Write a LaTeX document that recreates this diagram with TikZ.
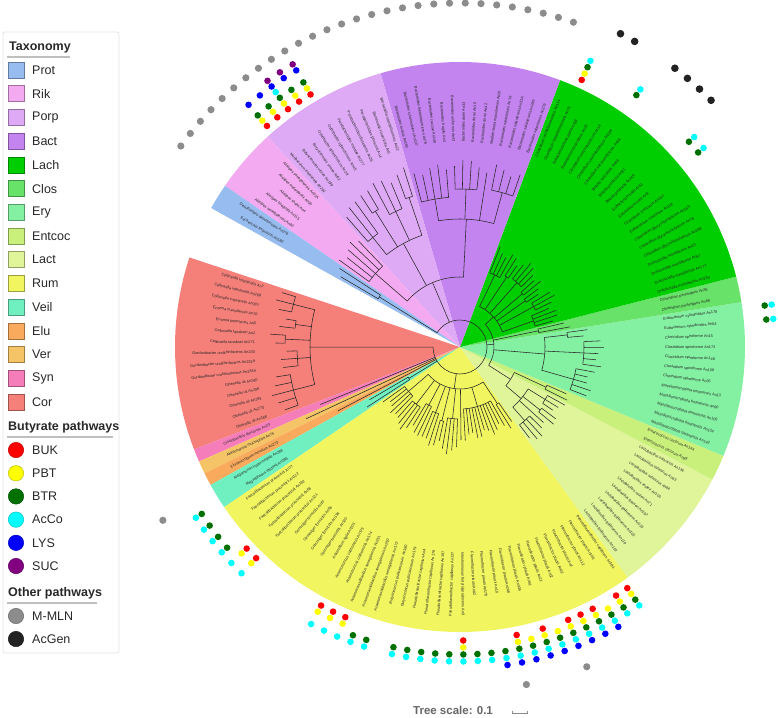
\documentclass[tikz,border=0pt]{standalone}
\usepackage{fontspec}
\setmainfont{Liberation Sans}
\usetikzlibrary{positioning}
\definecolor{prot}{RGB}{151,189,240}
\definecolor{rik}{RGB}{244,170,240}
\definecolor{porp}{RGB}{222,170,245}
\definecolor{bact}{RGB}{196,132,240}
\definecolor{lach}{RGB}{0,206,0}
\definecolor{clos}{RGB}{104,226,104}
\definecolor{ery}{RGB}{132,240,162}
\definecolor{entcoc}{RGB}{200,240,122}
\definecolor{lact}{RGB}{224,245,154}
\definecolor{rum}{RGB}{240,245,96}
\definecolor{veil}{RGB}{112,240,192}
\definecolor{elu}{RGB}{250,170,92}
\definecolor{ver}{RGB}{245,196,102}
\definecolor{syn}{RGB}{245,126,186}
\definecolor{cor}{RGB}{245,128,122}
\definecolor{buk}{RGB}{255,0,0}
\definecolor{pbt}{RGB}{255,255,0}
\definecolor{btr}{RGB}{0,112,0}
\definecolor{acco}{RGB}{0,255,255}
\definecolor{lys}{RGB}{0,0,255}
\definecolor{suc}{RGB}{128,0,128}
\definecolor{mmln}{RGB}{140,140,140}
\definecolor{acgen}{RGB}{34,34,34}
\definecolor{ink}{RGB}{40,40,40}
% angle of leaf number k
\newcommand{\kang}[1]{163+2.625*(#1)}
\newcommand{\sector}[3]{\fill[#3] (0,0) -- ({\kang{#1-0.5}}:285)
  arc[start angle={\kang{#1-0.5}}, end angle={\kang{#2+0.5}}, radius=285] -- cycle;}
% leaves #1..#2, node radius #3, tip radius #4, parent radius #5
\newcommand{\clade}[5]{%
  \draw[branch] ({\kang{(#1+#2)/2}}:#5) -- ({\kang{(#1+#2)/2}}:#3);
  \draw[branch] ({\kang{#1}}:#3) arc[start angle={\kang{#1}}, end angle={\kang{#2}}, radius=#3];
  \foreach \k in {#1,...,#2}
    \draw[branch] ({\kang{\k}}:#3) -- ({\kang{\k}}:{#4+4*sin(97*\k)});}
% inner node: arc between #1 and #2 at radius #3, stem from #4
\newcommand{\joint}[4]{%
  \draw[branch] ({\kang{(#1+#2)/2}}:#4) -- ({\kang{(#1+#2)/2}}:#3);
  \draw[branch] ({\kang{#1}}:#3) arc[start angle={\kang{#1}}, end angle={\kang{#2}}, radius=#3];}
\newcommand{\ring}[4]{\foreach \k in {#4} \fill[#1] ({\kang{\k}}:#2) circle[radius=#3];}
\tikzset{
  branch/.style={line width=0.55pt, draw=black!85},
  lbl/.style={font=\fontsize{3.8}{4}\selectfont, inner sep=0pt, text=black!85},
  leg/.style={font=\fontsize{12.5}{14}\selectfont, text=ink, anchor=west, inner sep=0pt},
  legtitle/.style={font=\fontsize{12.5}{14}\selectfont\bfseries, text=ink, anchor=west, inner sep=0pt},
  swatch/.style={draw=#1!65!black, fill=#1, line width=0.5pt},
  legdot/.style={draw=#1!75!black, fill=#1, line width=0.5pt},
  rule/.style={draw=black!25, line width=1.4pt},
}
\begin{document}
\begin{tikzpicture}[x=1pt,y=1pt]
\useasboundingbox (0,0) rectangle (778,-717);
\fill[white] (0,0) rectangle (778,-717);

% legend
\draw[black!10, line width=0.8pt, rounded corners=2pt] (3,-32) rectangle (119,-653);
\node[legtitle] (taxa) at (9,-47) {Taxonomy};
\draw[rule] (7,-57) -- (70,-57);
\foreach \nm/\col [count=\i] in {Prot/prot,Rik/rik,Porp/porp,Bact/bact,Lach/lach,Clos/clos,Ery/ery,Entcoc/entcoc,Lact/lact,Rum/rum,Veil/veil,Elu/elu,Ver/ver,Syn/syn,Cor/cor}{
  \pgfmathsetmacro\yy{-70-23.71*(\i-1)}
  \filldraw[swatch=\col] (8,\yy-8) rectangle (24,\yy+8);
  \node[leg] (tx\i) at (32,\yy) {\nm};
}
\node[legtitle] (buty) at (8,-427) {Butyrate pathways};
\draw[rule] (7,-437) -- (113,-437);
\foreach \nm/\col [count=\i] in {BUK/buk,PBT/pbt,BTR/btr,AcCo/acco,LYS/lys,SUC/suc}{
  \pgfmathsetmacro\yy{-450-23.2*(\i-1)}
  \filldraw[legdot=\col] (16,\yy) circle[radius=7.7];
  \node[leg] (bp\i) at (32,\yy) {\nm};
}
\node[legtitle] (other) at (8,-593) {Other pathways};
\draw[rule] (7,-603) -- (97,-603);
\foreach \nm/\col [count=\i] in {M-MLN/mmln,AcGen/acgen}{
  \pgfmathsetmacro\yy{-616-23*(\i-1)}
  \filldraw[legdot=\col] (16,\yy) circle[radius=7.7];
  \node[leg] (op\i) at (32,\yy) {\nm};
}

\begin{scope}[shift={(460,-347)}]
% clade sectors
\sector{0}{14}{cor}
\sector{15}{15}{syn}
\sector{16}{16}{ver}
\sector{17}{17}{elu}
\sector{18}{19}{veil}
\sector{20}{54}{rum}
\sector{55}{64}{lact}
\sector{65}{66}{entcoc}
\sector{67}{78}{ery}
\sector{79}{80}{clos}
\sector{81}{101}{lach}
\sector{102}{115}{bact}
\sector{116}{125}{porp}
\sector{126}{130}{rik}
\sector{131}{132}{prot}

% tree
\draw[branch] ({\kang{6.5}}:27) arc[start angle={\kang{6.5}}, end angle={\kang{131.5}}, radius=27];
% Cor
\joint{1}{12}{150}{27}
\clade{0}{2}{172}{186}{150}
\clade{3}{4}{166}{180}{150}
\clade{5}{6}{175}{187}{150}
\clade{7}{9}{163}{176}{150}
\clade{10}{14}{172}{190}{150}
% Syn, Ver, Elu, Veil
\clade{15}{15}{27}{150}{27}
\clade{16}{16}{27}{166}{27}
\clade{17}{17}{27}{140}{27}
\clade{18}{19}{60}{108}{27}
% Rum
\joint{22}{53.5}{42}{27}
\clade{20}{24}{68}{92}{42}
\clade{25}{28}{72}{98}{42}
\clade{29}{31}{66}{95}{42}
\clade{32}{34}{70}{100}{42}
\clade{35}{36}{76}{100}{42}
\clade{37}{40}{72}{104}{42}
\clade{41}{41}{42}{92}{42}
\clade{42}{52}{62}{90}{42}
\clade{53}{54}{68}{92}{42}
% Lact, Entcoc, Ery, Clos, Lach
\joint{62.625}{91}{34}{27}
\joint{59.75}{65.5}{60}{34}
\joint{56.5}{63}{80}{60}
\clade{55}{58}{98}{118}{80}
\clade{59}{59}{80}{115}{80}
\clade{60}{61}{102}{118}{80}
\clade{62}{64}{100}{116}{80}
\clade{65}{66}{95}{120}{60}
\joint{69}{77.5}{85}{34}
\clade{67}{71}{118}{134}{85}
\clade{72}{76}{124}{140}{85}
\clade{77}{78}{108}{128}{85}
\clade{79}{80}{80}{108}{34}
\joint{82.5}{99.5}{45}{34}
\clade{81}{84}{78}{100}{45}
\clade{85}{87}{84}{104}{45}
\clade{88}{89}{80}{98}{45}
\clade{90}{91}{82}{100}{45}
\clade{92}{95}{86}{106}{45}
\clade{96}{97}{84}{102}{45}
\clade{98}{101}{80}{104}{45}
% Bact, Porp, Rik
\joint{108.25}{128}{70}{27}
\joint{103.5}{113}{128}{70}
\clade{102}{105}{160}{182}{128}
\clade{106}{106}{128}{178}{128}
\clade{107}{110}{158}{184}{128}
\clade{111}{115}{150}{180}{128}
\joint{116.5}{124}{118}{70}
\clade{116}{117}{158}{184}{118}
\clade{118}{120}{150}{182}{118}
\clade{121}{122}{160}{184}{118}
\clade{123}{125}{140}{176}{118}
\clade{126}{130}{112}{148}{70}
% Prot
\clade{131}{132}{95}{140}{27}

% leaf labels, right half
\foreach \k/\txt in {
41/Intestinimonas butyriciproducens An9, 42/Flavonifractor plautii An82,
43/Flavonifractor plautii An178, 44/Flavonifractor plautii An10,
45/Flavonifractor plautii An248, 46/Flavonifractor plautii An306,
47/Flavonifractor plautii An91, 48/Flavonifractor plautii An21,
49/Flavonifractor plautii An52, 50/Flavonifractor plautii An62,
51/Flavonifractor plautii An4, 52/Flavonifractor plautii An112,
53/Flavonifractor plautii An100, 54/Pseudoflavonifractor capillosus An184,
55/Lactobacillus gallinarum An103, 56/Lactobacillus gallinarum An119,
57/Lactobacillus gallinarum An102, 58/Lactobacillus gallinarum An115,
59/Lactobacillus gasseri An197, 60/Lactobacillus reuteri An71,
61/Lactobacillus reuteri An100, 62/Lactobacillus salivarius An84,
63/Lactobacillus salivarius An63, 64/Lactobacillus salivarius An136,
65/Enterococcus cecorum An69, 66/Enterococcus cecorum An144,
67/Massiliomicrobiota timonensis An142, 68/Massiliomicrobiota timonensis An134,
69/Massiliomicrobiota timonensis An105, 70/Massiliomicrobiota timonensis An80,
71/Massiliomicrobiota timonensis An13, 72/Clostridium spiroforme An35,
73/Clostridium spiroforme An158, 74/Clostridium spiroforme An148,
75/Clostridium spiroforme An173, 76/Clostridium spiroforme An15,
77/Eubacterium cylindroides An64, 78/Eubacterium cylindroides An178,
79/Clostridium perfringens An68, 80/Clostridium perfringens An85,
81/Dracourtella massiliensis An230, 82/Dracourtella massiliensis An177,
83/Dracourtella massiliensis An67, 84/Dracourtella massiliensis An22,
85/Clostridium glycyrrhizinilyticum An298, 86/Clostridium glycyrrhizinilyticum An76,
87/Clostridium glycyrrhizinilyticum An169, 88/Eubacterium contortum An118,
89/Clostridium innocuum An181, 90/Eubacterium hallii An3,
91/Eubacterium hallii An11, 92/Blautia producta An249,
93/Blautia producta An81, 94/Blautia coccoides An66,
95/Clostridium saccharolyticum An58, 96/Clostridium saccharolyticum An168,
97/Clostridium saccharolyticum An14, 98/Eubacterium fissicatena An35,
99/Eubacterium fissicatena An38, 100/Clostridium lactatifermentans An75,
101/Clostridium lactatifermentans An114,
102/Bacteroides salanitronis An279, 103/Bacteroides salanitronis An289,
104/Bacteroides salanitronis An31A, 105/Bacteroides salanitronis An19,
106/Mediterranea massiliensis An20, 107/Bacteroides dorei An42,
108/Bacteroides dorei An10, 109/Bacteroides dorei An33}
  \node[lbl, anchor=west, rotate={\kang{\k}}] (l\k) at ({\kang{\k}}:205) {\txt};

% leaf labels, left half
\foreach \k/\txt in {
0/Collinsella intestinalis An7, 1/Collinsella intestinalis An268,
2/Collinsella intestinalis An307, 3/Enorma massiliensis An70,
4/Enorma timonensis An5, 5/Collinsella tanakaei An2,
6/Collinsella tanakaei An271, 7/Gordonibacter urolithinfaciens An230,
8/Gordonibacter urolithinfaciens An232A, 9/Gordonibacter urolithinfaciens An234A,
10/Olsenella uli An290, 11/Olsenella uli An206, 12/Olsenella uli An293,
13/Olsenella uli An270, 14/Olsenella uli An188,
15/Cloacibacillus porcorum An23, 16/Akkermansia muciniphila An75,
17/Elusimicrobium minutum An273, 18/Megamonas hypermegale An288,
19/Megasphaera elsdenii An286,
20/Faecalibacterium prausnitzii An77, 21/Faecalibacterium prausnitzii An122,
22/Faecalibacterium prausnitzii An192, 23/Faecalibacterium prausnitzii An58,
24/Faecalibacterium prausnitzii An121, 25/Gemmiger formicilis An67,
26/Gemmiger formicilis An56, 27/Gemmiger formicilis An194,
28/Gemmiger formicilis An120, 29/Anaerofilum agile An201,
30/Anaerotruncus colihominis An175, 31/Anaerotruncus colihominis An174,
32/Anaeromassilibacillus senegalensis An251, 33/Anaeromassilibacillus senegalensis An250,
34/Anaeromassilibacillus senegalensis An172, 35/Butyricicoccus pullicaecorum An180,
36/Butyricicoccus pullicaecorum An179, 37/Pseudoflavonifractor capillosus An4,
38/Pseudoflavonifractor capillosus An176, 39/Pseudoflavonifractor capillosus An187,
40/Pseudoflavonifractor capillosus An137,
110/Bacteroides uniformis An43, 111/Bacteroides fragilis An3,
112/Bacteroides caccae An148, 113/Bacteroides thetaiotaomicron An78,
114/Bacteroides xylanisolvens An107, 115/Bacteroides ovatus An190,
116/Barnesiella intestinihominis An22, 117/Barnesiella viscericola An5,
118/Parabacteroides johnsonii An4, 119/Parabacteroides distasonis An26,
120/Parabacteroides merdae An277, 121/Odoribacter splanchnicus An45,
122/Odoribacter splanchnicus An28, 123/Butyricimonas virosa An62,
124/Butyricimonas virosa An199, 125/Muribaculum intestinale An292,
126/Alistipes senegalensis An31A, 127/Alistipes onderdonkii An90,
128/Alistipes shahii An4, 129/Alistipes finegoldii An115,
130/Alistipes senegalensis An60,
131/Desulfovibrio desulfuricans An276, 132/Escherichia fergusonii An180}
  \node[lbl, anchor=east, rotate={\kang{\k}+180}] (l\k) at ({\kang{\k}}:205) {\txt};

% pathway rings
\ring{buk}{293.5}{3.3}{23,24,30,31,32,41,45,47,49,50,51,53,54,100,121,122,123,124,125}
\ring{pbt}{300.5}{3.3}{23,24,30,31,32,41,45,46,47,48,49,50,51,52,53,54,100,121,122,123,124,125}
\ring{btr}{307.5}{3.3}{19,20,21,22,33,34,36,37,38,39,40,41,42,43,44,45,46,47,48,49,50,51,52,53,54,77,78,90,91,96,100,121,122,123,124,125}
\ring{acco}{314.5}{3.3}{19,20,21,22,23,24,30,31,32,33,34,36,37,38,39,40,41,42,43,44,45,46,47,48,49,50,51,52,53,54,77,78,90,91,96,100,123}
\ring{lys}{321.5}{3.3}{44,45,46,47,48,49,50,51,52,121,122,123,124,125}
\ring{suc}{328.5}{3.3}{121,122,123}
\ring{mmln}{344}{3.6}{18,45,49}
\ring{mmln}{344}{3.6}{102,...,130}
\ring{acgen}{352}{3.8}{92,93,94,95,98,99}
\end{scope}

% tree scale
\node[font=\fontsize{11.5}{13}\selectfont\bfseries, text=black!60, inner sep=0pt] (scale) at (453,-710) {Tree scale: 0.1};
\draw[black!45, line width=0.8pt] (512,-710.5) -- (512,-713) -- (527,-713) -- (527,-710.5);
\end{tikzpicture}
\end{document}
